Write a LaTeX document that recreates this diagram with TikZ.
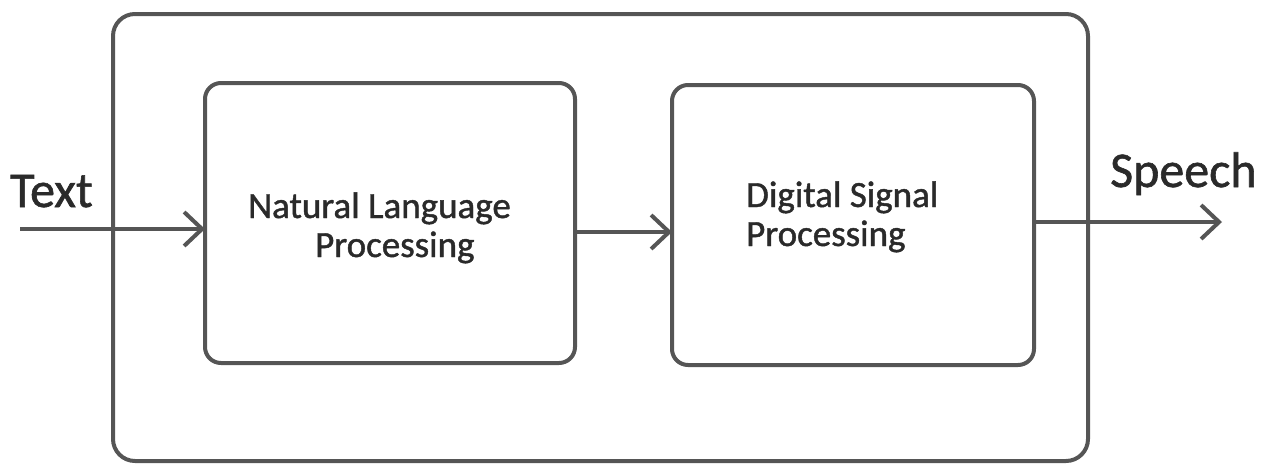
\documentclass[tikz,border=0pt]{standalone}
\usepackage{fontspec}
\setmainfont{Carlito}
\newfontfamily\heavyfont{Carlito}[FakeBold=1.2]
\usetikzlibrary{arrows.meta}
\definecolor{linegray}{HTML}{555555}
\definecolor{textgray}{HTML}{2A2A2A}
\begin{document}
\begin{tikzpicture}[x=1pt,y=-1pt,
  box/.style={draw=linegray, line width=4pt, rounded corners=16pt, inner sep=0pt, outer sep=0pt},
  arr/.style={draw=linegray, line width=4pt, -{Straight Barb[length=18pt,width=34pt,line width=4pt]}},
  bigtxt/.style={text=textgray, inner sep=0pt, anchor=base west, font=\heavyfont\fontsize{50}{60}\selectfont},
  midtxt/.style={text=textgray, inner sep=0pt, anchor=base west, font=\heavyfont\fontsize{37}{44}\selectfont}]
\useasboundingbox (0,0) rectangle (1264,464);
\node[box, rounded corners=22pt, minimum width=975pt, minimum height=447pt] (outer) at (600.5,237.5) {};
\node[box, minimum width=370pt, minimum height=280pt] (nlp) at (390,223) {};
\node[box, minimum width=362pt, minimum height=280pt] (dsp) at (853,225) {};
\node[midtxt] (nlp1) at (248,218) {Natural Language};
\node[midtxt] (nlp2) at (315,257) {Processing};
\node[midtxt] (dsp1) at (746,207) {Digital Signal};
\node[midtxt] (dsp2) at (746,246) {Processing};
\node[bigtxt] (txt) at (10,207) {Text};
\node[bigtxt] (sp) at (1110,187) {Speech};
\coordinate (in) at (20,229);
\coordinate (m) at (0,232);
\coordinate (o) at (0,222);
\coordinate (out) at (1222,222);
\draw[arr] (in) -- (in -| nlp.west);
\draw[arr] (m -| nlp.east) -- (m -| dsp.west);
\draw[arr] (o -| dsp.east) -- (out);
\end{tikzpicture}
\end{document}
